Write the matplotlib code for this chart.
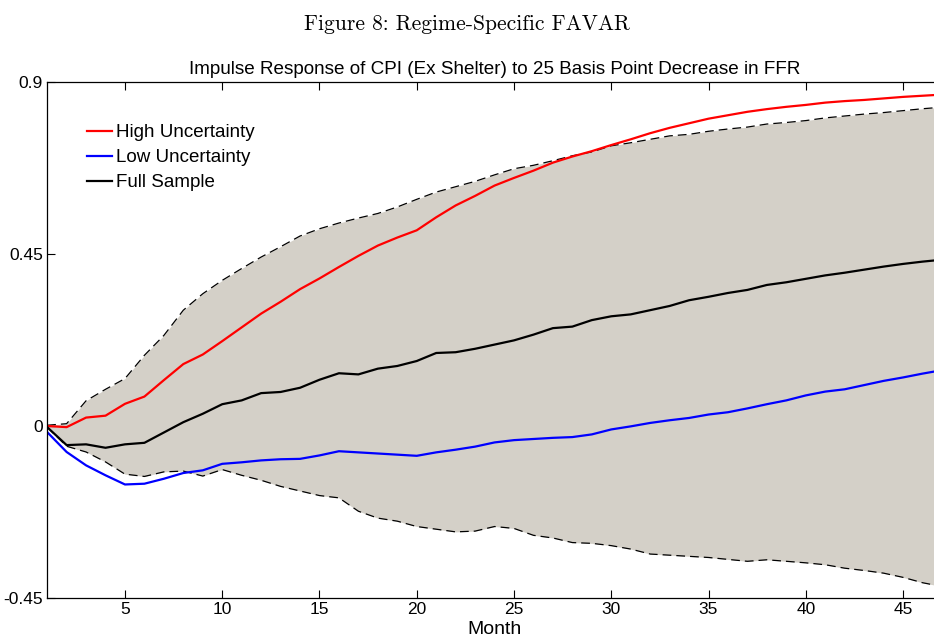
import numpy as np
import matplotlib
matplotlib.use('Agg')
from matplotlib import pyplot as plt

plt.rcParams['axes.unicode_minus'] = False
plt.rcParams['font.family'] = ['Liberation Sans', 'DejaVu Sans']

months = np.arange(1, 48)

high_unc = [0, -0.003, 0.022, 0.027, 0.058, 0.077, 0.120, 0.162, 0.187, 0.222,
            0.258, 0.294, 0.325, 0.358, 0.386, 0.416, 0.445, 0.472, 0.493, 0.512,
            0.546, 0.577, 0.602, 0.629, 0.649, 0.668, 0.689, 0.705, 0.719, 0.735,
            0.750, 0.766, 0.780, 0.792, 0.804, 0.813, 0.822, 0.829, 0.835, 0.840,
            0.846, 0.850, 0.853, 0.857, 0.861, 0.864, 0.867]

low_unc = [-0.016, -0.068, -0.103, -0.129, -0.153, -0.151, -0.138, -0.123, -0.116, -0.099,
           -0.095, -0.090, -0.087, -0.086, -0.077, -0.066, -0.069, -0.072, -0.075, -0.078,
           -0.069, -0.062, -0.054, -0.043, -0.037, -0.034, -0.031, -0.029, -0.022, -0.009,
           -0.001, 0.008, 0.015, 0.021, 0.030, 0.036, 0.046, 0.057, 0.067, 0.080,
           0.090, 0.096, 0.107, 0.118, 0.127, 0.137, 0.146]

full_sample = [-0.003, -0.050, -0.048, -0.057, -0.048, -0.044, -0.017, 0.010, 0.032, 0.057,
               0.067, 0.086, 0.089, 0.100, 0.121, 0.138, 0.135, 0.150, 0.157, 0.170,
               0.191, 0.193, 0.202, 0.213, 0.224, 0.239, 0.256, 0.260, 0.277, 0.287,
               0.292, 0.303, 0.314, 0.329, 0.338, 0.348, 0.356, 0.369, 0.376, 0.385,
               0.394, 0.401, 0.409, 0.417, 0.424, 0.430, 0.435]

band_upper = [0.002, 0.006, 0.066, 0.096, 0.124, 0.185, 0.237, 0.303, 0.346, 0.381,
              0.412, 0.442, 0.469, 0.497, 0.516, 0.531, 0.544, 0.556, 0.573, 0.593,
              0.612, 0.626, 0.640, 0.657, 0.673, 0.682, 0.694, 0.707, 0.717, 0.733,
              0.741, 0.750, 0.759, 0.763, 0.771, 0.777, 0.782, 0.790, 0.794, 0.799,
              0.806, 0.811, 0.816, 0.820, 0.825, 0.830, 0.834]

band_lower = [-0.003, -0.053, -0.068, -0.094, -0.126, -0.132, -0.120, -0.118, -0.131, -0.114,
              -0.129, -0.142, -0.158, -0.170, -0.182, -0.188, -0.223, -0.241, -0.249, -0.263,
              -0.270, -0.277, -0.275, -0.263, -0.268, -0.286, -0.293, -0.305, -0.307, -0.313,
              -0.322, -0.335, -0.338, -0.341, -0.344, -0.349, -0.354, -0.350, -0.354, -0.358,
              -0.363, -0.372, -0.378, -0.385, -0.396, -0.410, -0.420]

yticks = [-0.45, 0, 0.45, 0.9]
ytick_labels = ['-0.45', '0', '0.45', '0.9']
xticks = [5, 10, 15, 20, 25, 30, 35, 40, 45]

fig = plt.figure(figsize=(9.34, 6.38), dpi=100)
# axes runs a little past the right edge, like the cropped original
ax = fig.add_axes([0.0505, 0.0627, 0.958, 0.8088])

ax.fill_between(months, band_lower, band_upper, color='#d4d0c8', linewidth=0)
ax.plot(months, band_upper, color='black', linestyle=(0, (7, 4)), linewidth=0.9)
ax.plot(months, band_lower, color='black', linestyle=(0, (7, 4)), linewidth=0.9)
ax.plot(months, high_unc, color='#ff0000', linewidth=1.6, label='High Uncertainty')
ax.plot(months, low_unc, color='#0000ff', linewidth=1.6, label='Low Uncertainty')
ax.plot(months, full_sample, color='black', linewidth=1.6, label='Full Sample')

ax.set_xlim(1, 47)
ax.set_ylim(-0.45, 0.9)
ax.set_xticks(xticks)
ax.set_yticks(yticks)
ax.set_yticklabels(ytick_labels)
ax.tick_params(direction='in', top=True, right=True, labelsize=12.5, length=6, width=0.8, pad=3)
for s in ax.spines.values():
    s.set_linewidth(0.9)

ax.set_xlabel('Month', fontsize=14)
ax.xaxis.set_label_coords(0.5, -0.045)
ax.set_title('Impulse Response of CPI (Ex Shelter) to 25 Basis Point Decrease in FFR',
             fontsize=13.6, pad=6)

ax.legend(loc='upper left', bbox_to_anchor=(0.045, 0.918), frameon=False,
          fontsize=13.5, handlelength=1.3, handletextpad=0.25, labelspacing=0.42,
          borderaxespad=0, borderpad=0)

fig.text(0.5, 0.978, 'Figure 8: Regime-Specific FAVAR', ha='center', va='top',
         fontsize=15.5, family=['cmr10', 'DejaVu Serif'])

fig.savefig('out.png', dpi=100)
